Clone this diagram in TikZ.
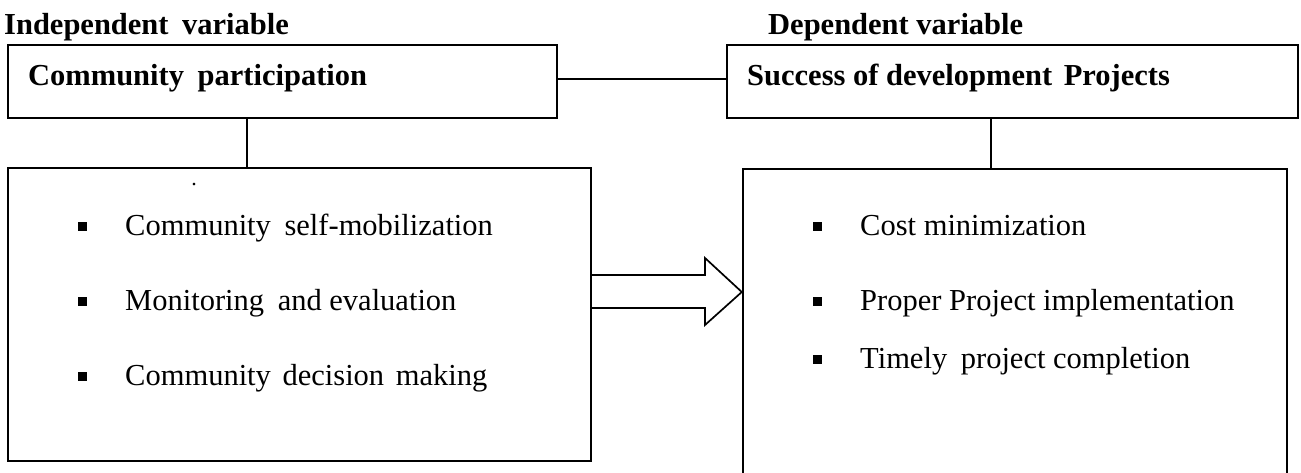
\documentclass[tikz,border=0pt]{standalone}
\usepackage{fontspec}
\setmainfont{Liberation Serif}
\begin{document}
\begin{tikzpicture}[x=1pt,y=-1pt,
  box/.style={draw=black,line width=2.4pt,rectangle,inner sep=0pt},
  link/.style={draw=black,line width=2.4pt},
  fatarrow/.style={draw=black,line width=1.7pt,line join=miter},
  head/.style={anchor=base west,inner sep=0pt,font=\fontsize{30.5}{36}\selectfont\bfseries},
  item/.style={anchor=base west,inner sep=0pt,font=\fontsize{30.5}{36}\selectfont},
  bul/.style={fill=black,inner sep=0pt,minimum width=9pt,minimum height=9pt,rectangle}
]
\clip (0,0) rectangle (1301,473);
\fill[white] (0,0) rectangle (1301,473);

% headings
\node[head] (iv) at (4,35) {Independent\hspace{6pt} variable};
\node[head] (dv) at (768,35) {Dependent variable};

% top boxes
\node[box,minimum width=549pt,minimum height=73pt] (cp) at (282.5,81.5) {};
\node[box,minimum width=571pt,minimum height=73pt] (sp) at (1012.5,81.5) {};
\node[head] (cpt) at (28,86) {Community\hspace{6pt} participation};
\node[head] (spt) at (747,86) {Success of development\hspace{4pt} Projects};

% bottom boxes
\node[box,minimum width=583pt,minimum height=293pt] (lb) at (299.5,314.5) {};
\node[box,minimum width=544pt,minimum height=310pt] (rb) at (1015,324) {};

% stray dot
\node[inner sep=0pt,anchor=base,font=\fontsize{22}{24}\selectfont] (dot) at (194,186) {.};

% left items
\node[bul] (lb1) at (82.5,227) {};
\node[bul] (lb2) at (82.5,301) {};
\node[bul] (lb3) at (82.5,376) {};
\node[item] (l1) at (125,236) {Community\hspace{6pt} self-mobilization};
\node[item] (l2) at (125,310) {Monitoring\hspace{6pt} and evaluation};
\node[item] (l3) at (125,385) {Community\hspace{4pt} decision\hspace{4pt} making};

% right items
\node[bul] (rb1) at (817.5,227) {};
\node[bul] (rb2) at (817.5,301) {};
\node[bul] (rb3) at (817.5,359) {};
\node[item] (r1) at (860,236) {Cost minimization};
\node[item] (r2) at (860,310) {Proper Project implementation};
\node[item] (r3) at (860,368) {Timely\hspace{6pt} project completion};

% connectors
\coordinate (v1) at (247,0);
\coordinate (v2) at (991,0);
\draw[link] ([yshift=2.5pt]cp.east) -- ([yshift=2.5pt]sp.west);
\draw[link] (v1 |- cp.south) -- (v1 |- lb.north);
\draw[link] (v2 |- sp.south) -- (v2 |- rb.north);

% fat arrow
\coordinate (s1) at (0,275);
\coordinate (s2) at (0,308);
\coordinate (tipy) at (0,292);
\draw[fatarrow] (lb.east |- s1) -- (705,275) -- (705,258) -- (rb.west |- tipy) -- (705,325) -- (705,308) -- (lb.east |- s2);
\end{tikzpicture}
\end{document}
